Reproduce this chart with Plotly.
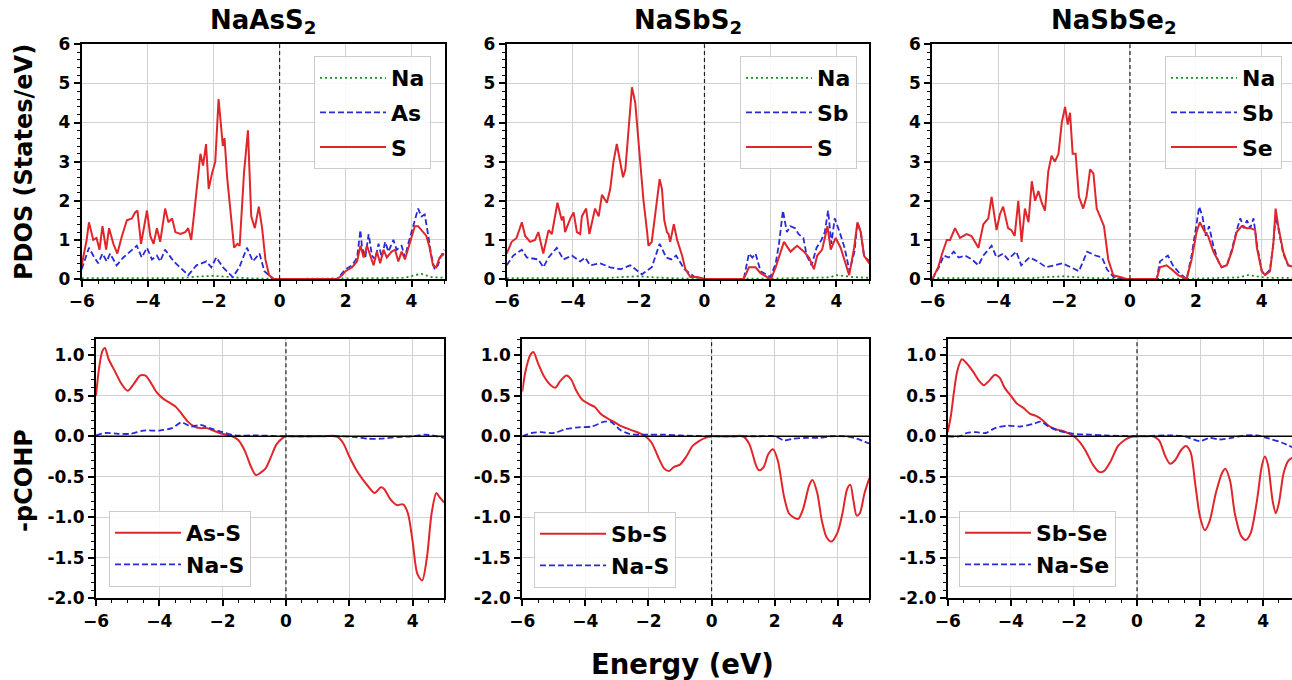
import plotly.graph_objects as go

# ---------------- DATA ----------------
titles = ["NaAsS<sub>2</sub>", "NaSbS<sub>2</sub>", "NaSbSe<sub>2</sub>"]
pdos_names = [["Na", "As", "S"], ["Na", "Sb", "S"], ["Na", "Sb", "Se"]]
cohp_names = [["As-S", "Na-S"], ["Sb-S", "Na-S"], ["Sb-Se", "Na-Se"]]

# NaAsS2 PDOS
e_na1 = [-6, -3.0, -2.5, -2.0, -1.5, -1.0, 0, 2, 3.8, 4.1, 4.3, 4.6, 5]
na1 = [0.02, 0.02, 0.06, 0.08, 0.05, 0.02, 0.0, 0.01, 0.03, 0.1, 0.13, 0.05, 0.03]
e_m1 = [-6.0, -5.78, -5.65, -5.5, -5.37, -5.24, -5.14, -4.94, -4.74, -4.33, -4.18, -4.02, -3.87, -3.72,
        -3.62, -3.47, -3.21, -3.01, -2.77, -2.52, -2.22, -2.07, -1.92, -1.72, -1.42, -1.22, -0.99, -0.81,
        -0.61, -0.46, -0.2, 0.0,
        1.75, 1.9, 2.0, 2.2, 2.35, 2.45, 2.5, 2.6, 2.7, 2.8, 2.9, 3.0, 3.1, 3.2, 3.3, 3.45, 3.55, 3.7,
        3.8, 3.9, 4.0, 4.1, 4.2, 4.3, 4.4, 4.5, 4.6, 4.7, 4.8, 4.9, 5.0]
m1 = [0.25, 0.8, 0.6, 0.4, 0.65, 0.45, 0.65, 0.35, 0.55, 0.85, 0.55, 0.8, 0.5, 0.6,
      0.45, 0.75, 0.45, 0.3, 0.1, 0.35, 0.45, 0.3, 0.55, 0.3, 0.05, 0.3, 0.8, 0.45,
      0.65, 0.2, 0.0, 0.0,
      0.0, 0.15, 0.25, 0.35, 0.55, 1.25, 0.8, 0.55, 1.15, 0.6, 0.5, 0.9, 0.55, 0.95, 0.7, 1.0, 0.75, 0.85,
      0.55, 0.9, 1.2, 1.55, 1.8, 1.6, 1.65, 1.15, 0.6, 0.25, 0.35, 0.6, 0.75]
e_x1 = [-6.0, -5.85, -5.78, -5.65, -5.55, -5.46, -5.37, -5.26, -5.17, -5.04, -4.92, -4.78, -4.63, -4.48,
        -4.38, -4.31, -4.2, -4.02, -3.92, -3.82, -3.72, -3.62, -3.47, -3.37, -3.26, -3.16, -3.01, -2.86,
        -2.77, -2.68, -2.6, -2.5, -2.4, -2.32, -2.23, -2.15, -2.05, -1.95, -1.85, -1.72, -1.67, -1.59,
        -1.49, -1.38, -1.28, -1.21, -1.08, -0.96, -0.86, -0.75, -0.63, -0.53, -0.43, -0.32, -0.17, 0.0,
        1.75, 1.9, 2.0, 2.2, 2.35, 2.45, 2.55, 2.65, 2.75, 2.85, 2.95, 3.05, 3.15, 3.25, 3.4, 3.5, 3.6,
        3.7, 3.8, 3.9, 4.0, 4.1, 4.2, 4.3, 4.45, 4.55, 4.65, 4.75, 4.85, 5.0]
x1 = [0.35, 1.0, 1.45, 1.0, 1.05, 0.75, 1.35, 0.75, 1.3, 0.9, 0.65, 1.1, 1.5, 1.55,
      1.7, 1.75, 0.9, 1.75, 1.1, 0.9, 1.3, 0.95, 1.8, 1.45, 1.55, 1.2, 1.15, 1.2,
      1.3, 1.0, 1.6, 2.4, 3.2, 2.9, 3.45, 2.3, 2.7, 3.0, 4.6, 3.4, 3.6, 2.6,
      1.8, 0.8, 0.9, 0.85, 2.7, 3.8, 1.6, 1.3, 1.85, 1.3, 0.5, 0.1, 0.0, 0.0,
      0.0, 0.1, 0.2, 0.3, 0.45, 0.85, 0.55, 0.85, 0.6, 0.35, 0.7, 0.4, 0.75, 0.55, 0.7, 0.75, 0.45,
      0.7, 0.5, 0.8, 1.05, 1.35, 1.35, 1.25, 1.1, 0.8, 0.35, 0.3, 0.55, 0.65]

# NaSbS2 PDOS
e_na2 = [-6, -3.0, -2.5, -2.0, -1.5, -1.0, 0, 2, 3.8, 4.0, 4.2, 4.5, 5]
na2 = [0.02, 0.02, 0.05, 0.07, 0.04, 0.02, 0.0, 0.01, 0.04, 0.1, 0.08, 0.05, 0.03]
e_m2 = [-6.0, -5.8, -5.54, -5.39, -5.04, -4.89, -4.73, -4.48, -4.28, -4.02, -3.77, -3.62, -3.47, -3.16,
        -2.86, -2.55, -2.25, -2.1, -1.9, -1.6, -1.36, -1.16, -1.01, -0.86, -0.61, -0.3, 0.0,
        1.19, 1.35, 1.45, 1.55, 1.7, 1.9, 2.0, 2.16, 2.26, 2.38, 2.5, 2.6, 2.75, 2.85, 3.0, 3.1, 3.25,
        3.4, 3.55, 3.65, 3.75, 3.85, 3.95, 4.1, 4.25, 4.4, 4.55, 4.64, 4.74, 4.84, 5.0]
m2 = [0.35, 0.6, 0.75, 0.55, 0.5, 0.3, 0.55, 0.8, 0.5, 0.6, 0.45, 0.55, 0.35, 0.4,
      0.3, 0.25, 0.35, 0.25, 0.12, 0.3, 0.9, 0.55, 0.5, 0.6, 0.25, 0.05, 0.0,
      0.0, 0.65, 0.55, 0.65, 0.2, 0.1, 0.05, 0.4, 0.9, 1.75, 1.2, 1.35, 1.3, 1.15, 1.05, 0.6, 0.35,
      0.8, 1.0, 1.2, 1.75, 0.9, 1.55, 1.2, 0.8, 0.2, 0.7, 1.45, 1.2, 0.6, 0.45]
e_x2 = [-6.0, -5.85, -5.7, -5.54, -5.44, -5.29, -5.14, -5.04, -4.89, -4.73, -4.63, -4.46, -4.33, -4.28,
        -4.23, -4.07, -3.97, -3.87, -3.77, -3.72, -3.59, -3.49, -3.32, -3.21, -3.11, -2.96, -2.86,
        -2.76, -2.66, -2.55, -2.47, -2.4, -2.3, -2.2, -2.1, -1.97, -1.85, -1.74, -1.7, -1.6, -1.44,
        -1.36, -1.29, -1.22, -1.14, -1.09, -1.04, -0.93, -0.83, -0.68, -0.58, -0.43, -0.22, 0.0,
        1.19, 1.35, 1.55, 1.7, 1.9, 2.02, 2.16, 2.26, 2.41, 2.61, 2.81, 3.02, 3.17, 3.32, 3.42, 3.57,
        3.73, 3.83, 3.98, 4.13, 4.23, 4.39, 4.54, 4.64, 4.74, 4.84, 5.0]
x2 = [0.65, 0.95, 1.05, 1.45, 1.1, 0.95, 1.0, 1.2, 0.65, 1.25, 1.15, 1.95, 1.5, 1.6,
      1.2, 1.55, 1.7, 1.2, 1.15, 1.6, 1.8, 1.15, 1.8, 1.6, 2.15, 1.95, 2.3,
      3.0, 3.45, 3.0, 2.6, 2.8, 3.8, 4.9, 4.5, 3.3, 2.0, 1.2, 0.85, 0.95, 2.0,
      2.55, 2.3, 1.5, 1.2, 1.15, 0.95, 1.4, 1.0, 0.6, 0.25, 0.05, 0.05, 0.0,
      0.0, 0.3, 0.3, 0.15, 0.05, 0.0, 0.3, 0.55, 0.95, 0.7, 0.85, 0.7, 0.55, 0.25, 0.6, 0.75,
      1.35, 0.75, 1.05, 0.8, 0.55, 0.1, 0.8, 1.45, 1.2, 0.6, 0.4]

# NaSbSe2 PDOS
e_na3 = [-6, -3.0, -2.5, -2.0, -1.5, -1.0, 0, 2, 3.3, 3.6, 3.9, 4.2, 5]
na3 = [0.02, 0.02, 0.05, 0.07, 0.04, 0.02, 0.0, 0.01, 0.04, 0.1, 0.06, 0.03, 0.03]
e_m3 = [-6.0, -5.8, -5.65, -5.5, -5.35, -5.2, -5.0, -4.8, -4.6, -4.45, -4.2, -4.05, -3.85, -3.7,
        -3.45, -3.3, -3.05, -2.8, -2.55, -2.3, -2.05, -1.8, -1.55, -1.3, -1.05, -0.85, -0.7, -0.5,
        -0.2, 0.0,
        0.81, 0.91, 1.05, 1.15, 1.3, 1.5, 1.72, 1.87, 2.0, 2.1, 2.2, 2.3, 2.4, 2.53, 2.68, 2.78, 2.94,
        3.09, 3.24, 3.35, 3.45, 3.55, 3.65, 3.75, 3.85, 4.0, 4.1, 4.25, 4.35, 4.42, 4.5, 4.65, 4.8, 5.0]
m3 = [0.0, 0.3, 0.6, 0.55, 0.7, 0.55, 0.6, 0.5, 0.35, 0.6, 0.85, 0.55, 0.65, 0.5,
      0.7, 0.35, 0.55, 0.45, 0.3, 0.35, 0.4, 0.3, 0.2, 0.7, 0.6, 0.55, 0.25, 0.05,
      0.0, 0.0,
      0.0, 0.45, 0.55, 0.6, 0.35, 0.15, 0.0, 0.6, 1.3, 1.85, 1.6, 1.1, 1.35, 0.85, 0.45, 0.3, 0.35,
      0.75, 1.25, 1.55, 1.3, 1.5, 1.3, 1.55, 0.9, 0.2, 0.1, 0.25, 0.9, 1.6, 1.3, 0.65, 0.35, 0.3]
e_x3 = [-6.0, -5.82, -5.72, -5.56, -5.46, -5.31, -5.16, -4.96, -4.81, -4.6, -4.45, -4.3, -4.2, -4.05,
        -3.95, -3.85, -3.7, -3.6, -3.5, -3.39, -3.29, -3.19, -3.08, -2.98, -2.88, -2.78, -2.68, -2.58,
        -2.48, -2.38, -2.28, -2.17, -2.07, -1.97, -1.89, -1.82, -1.74, -1.65, -1.55, -1.42, -1.32,
        -1.21, -1.11, -1.01, -0.91, -0.79, -0.66, -0.51, -0.3, -0.1, 0.0,
        0.81, 0.91, 1.11, 1.26, 1.46, 1.72, 1.87, 2.02, 2.12, 2.27, 2.37, 2.53, 2.68, 2.78, 2.94, 3.09,
        3.24, 3.39, 3.54, 3.65, 3.8, 3.85, 4.0, 4.1, 4.25, 4.35, 4.42, 4.5, 4.65, 4.8, 5.0]
x3 = [0.0, 0.3, 0.6, 1.0, 1.0, 1.3, 1.05, 1.15, 1.1, 0.8, 1.4, 1.55, 2.1, 1.25,
      1.65, 1.85, 1.3, 1.25, 1.1, 2.0, 0.95, 1.8, 1.45, 2.5, 2.0, 2.25, 1.95, 1.75,
      2.75, 3.15, 3.0, 3.2, 4.0, 4.4, 3.95, 4.25, 3.2, 3.2, 2.1, 1.8, 2.1,
      2.8, 2.7, 1.8, 1.6, 1.35, 0.5, 0.1, 0.05, 0.0, 0.0,
      0.0, 0.3, 0.35, 0.25, 0.1, 0.0, 0.5, 1.2, 1.45, 1.2, 1.1, 0.7, 0.45, 0.3, 0.35, 0.7,
      1.2, 1.35, 1.3, 1.3, 1.25, 0.8, 0.2, 0.1, 0.2, 0.9, 1.8, 1.35, 0.7, 0.35, 0.3]

# -pCOHP
e_c1 = [-6.0, -5.9, -5.8, -5.72, -5.6, -5.4, -5.2, -5.0, -4.8, -4.6, -4.45, -4.3, -4.1, -3.9, -3.7,
        -3.5, -3.3, -3.1, -2.9, -2.7, -2.5, -2.3, -2.1, -1.9, -1.7, -1.5, -1.3, -1.1, -0.95, -0.8,
        -0.65, -0.5, -0.3, -0.1, 0.0, 0.4, 0.8, 1.2, 1.6, 1.8, 2.0, 2.2, 2.4, 2.6, 2.8, 3.0, 3.1, 3.3,
        3.5, 3.7, 3.85, 4.0, 4.15, 4.3, 4.45, 4.6, 4.75, 4.85, 5.0]
c1 = [0.5, 0.85, 1.05, 1.09, 0.95, 0.8, 0.65, 0.56, 0.65, 0.75, 0.75, 0.68, 0.55, 0.47, 0.42,
      0.37, 0.28, 0.18, 0.12, 0.1, 0.1, 0.07, 0.04, 0.02, 0.0, -0.05, -0.18, -0.38, -0.48, -0.45,
      -0.4, -0.28, -0.1, -0.02, 0.0, 0.0, 0.0, 0.0, 0.0, -0.08, -0.25, -0.4, -0.52, -0.62, -0.7,
      -0.63, -0.65, -0.78, -0.85, -0.84, -0.95, -1.3, -1.7, -1.78, -1.5, -0.95, -0.7, -0.75, -0.82]
e_n1 = [-6.0, -5.7, -5.3, -4.9, -4.5, -4.0, -3.6, -3.3, -3.0, -2.7, -2.4, -2.0, -1.6, -1.0, 0.0,
        1.5, 2.2, 2.6, 3.0, 3.5, 4.0, 4.4, 5.0]
n1 = [0.01, 0.04, 0.03, 0.03, 0.07, 0.07, 0.1, 0.17, 0.12, 0.14, 0.1, 0.05, 0.01, 0.01, 0.0,
      0.0, -0.01, -0.03, -0.03, -0.01, 0.0, 0.02, -0.02]

e_c2 = [-6.0, -5.9, -5.75, -5.65, -5.5, -5.3, -5.1, -4.95, -4.8, -4.6, -4.45, -4.3, -4.1, -3.9, -3.7,
        -3.5, -3.3, -3.1, -2.9, -2.7, -2.5, -2.3, -2.1, -1.9, -1.7, -1.5, -1.35, -1.2, -1.0, -0.8,
        -0.6, -0.4, -0.2, 0.0, 0.35, 0.7, 1.0, 1.2, 1.4, 1.5, 1.65, 1.8, 1.95, 2.1, 2.3, 2.45, 2.6,
        2.75, 2.9, 3.1, 3.2, 3.35, 3.5, 3.65, 3.8, 4.0, 4.15, 4.3, 4.4, 4.5, 4.6, 4.7, 4.85, 5.0]
c2 = [0.55, 0.8, 1.0, 1.04, 0.9, 0.73, 0.63, 0.6, 0.68, 0.75, 0.7, 0.57, 0.45, 0.4, 0.36,
      0.27, 0.22, 0.18, 0.13, 0.1, 0.07, 0.04, 0.0, -0.08, -0.25, -0.4, -0.43, -0.38, -0.35, -0.25,
      -0.12, -0.06, -0.02, 0.0, 0.0, 0.0, 0.0, -0.1, -0.35, -0.42, -0.38, -0.22, -0.16, -0.3, -0.75,
      -0.95, -1.0, -1.02, -0.9, -0.6, -0.54, -0.7, -1.05, -1.25, -1.3, -1.18, -0.95, -0.65, -0.6,
      -0.8, -0.98, -0.95, -0.7, -0.52]
e_n2 = [-6.0, -5.7, -5.4, -5.0, -4.6, -4.2, -3.8, -3.4, -3.2, -2.9, -2.6, -2.0, -1.5, -1.0, 0.0,
        1.5, 2.0, 2.3, 2.6, 3.0, 3.4, 3.8, 4.2, 4.6, 5.0]
n2 = [0.0, 0.04, 0.05, 0.04, 0.09, 0.11, 0.12, 0.18, 0.18, 0.08, 0.03, 0.02, 0.02, 0.01, 0.0,
      0.0, 0.0, -0.05, -0.03, -0.02, -0.02, 0.0, 0.0, -0.03, -0.09]

e_c3 = [-6.0, -5.9, -5.8, -5.7, -5.55, -5.4, -5.2, -5.0, -4.85, -4.7, -4.5, -4.35, -4.2, -4.0, -3.8,
        -3.6, -3.4, -3.2, -3.0, -2.8, -2.6, -2.4, -2.2, -2.0, -1.8, -1.6, -1.4, -1.2, -1.05, -0.85,
        -0.6, -0.4, -0.2, 0.0, 0.25, 0.5, 0.7, 0.9, 1.05, 1.2, 1.4, 1.55, 1.7, 1.85, 2.0, 2.15, 2.3,
        2.5, 2.7, 2.8, 2.95, 3.1, 3.3, 3.45, 3.6, 3.8, 3.95, 4.05, 4.15, 4.3, 4.4, 4.5, 4.65, 4.8, 5.0]
c3 = [0.05, 0.25, 0.55, 0.8, 0.95, 0.9, 0.8, 0.68, 0.63, 0.68, 0.76, 0.72, 0.6, 0.5, 0.4,
      0.35, 0.28, 0.25, 0.2, 0.13, 0.09, 0.07, 0.04, 0.0, -0.08, -0.2, -0.35, -0.44, -0.43, -0.32,
      -0.12, -0.05, -0.01, 0.0, 0.0, 0.0, -0.05, -0.25, -0.34, -0.3, -0.17, -0.12, -0.2, -0.6, -1.0,
      -1.16, -1.05, -0.7, -0.45, -0.4, -0.55, -0.95, -1.23, -1.28, -1.2, -0.8, -0.38, -0.25, -0.35,
      -0.8, -0.95, -0.82, -0.45, -0.3, -0.25]
e_n3 = [-6.0, -5.6, -5.4, -5.1, -4.8, -4.5, -4.1, -3.7, -3.3, -3.05, -2.8, -2.5, -2.0, -1.5, -1.0,
        0.0, 1.0, 1.5, 2.0, 2.3, 2.6, 3.0, 3.4, 3.8, 4.2, 4.6, 5.0]
n3 = [0.0, 0.0, 0.04, 0.05, 0.04, 0.1, 0.13, 0.12, 0.15, 0.18, 0.12, 0.07, 0.03, 0.02, 0.01,
      0.0, 0.01, 0.0, -0.06, -0.02, -0.04, -0.02, 0.01, 0.01, -0.03, -0.08, -0.15]

pdos_na = [(e_na1, na1), (e_na2, na2), (e_na3, na3)]
pdos_m = [(e_m1, m1), (e_m2, m2), (e_m3, m3)]
pdos_x = [(e_x1, x1), (e_x2, x2), (e_x3, x3)]
cohp_main = [(e_c1, c1), (e_c2, c2), (e_c3, c3)]
cohp_na = [(e_n1, n1), (e_n2, n2), (e_n3, n3)]
cohp_ticks = [-2.0, -1.5, -1.0, -0.5, 0.0, 0.5, 1.0]

# ---------------- LAYOUT ----------------
W, H = 1292, 680
FONT = "DejaVu Sans"
RED = "#e0262a"
BLUE = "#2a2ad6"
GREEN = "#1e8c1e"
GRID = "#d2d2d2"


def fx(p):
    return p / W


def fy(p):
    return 1 - p / H


def aid(k):
    return "" if k == 1 else str(k)


top_dom = [(81.7, 444.5), (506.7, 869.3), (932.3, 1292)]
bot_dom = [(96, 444.3), (522.3, 869.3), (947.7, 1292)]
top_rng = [[-6, 5], [-6, 5], [-6, 4.917]]
bot_rng = [[-6, 5], [-6, 5], [-6, 4.913]]
top_y = (44.3, 279)
bot_y = (339, 598.3)
top_leg = [(431, 56), (857, 56), (1282, 56)]
bot_leg = [(109, 587), (534, 588), (959, 587)]

tickfont = dict(family=FONT, size=17, color="black", weight="bold")
legfont = dict(family=FONT, size=22, color="black", weight="bold")

fig = go.Figure()
layout = {}
shapes = []

for i in range(3):
    # top PDOS
    k = i + 1
    xa, ya = "x" + aid(k), "y" + aid(k)
    leg = "legend" + aid(k)
    fig.add_trace(go.Scatter(x=pdos_na[i][0], y=pdos_na[i][1], mode="lines", name=pdos_names[i][0],
                             line=dict(color=GREEN, width=1.8, dash="2px,3px"),
                             xaxis=xa, yaxis=ya, legend=leg, legendgroup=f"a{k}"))
    fig.add_trace(go.Scatter(x=pdos_m[i][0], y=pdos_m[i][1], mode="lines", name=pdos_names[i][1],
                             line=dict(color=BLUE, width=1.8, dash="6px,3px"),
                             xaxis=xa, yaxis=ya, legend=leg, legendgroup=f"b{k}"))
    fig.add_trace(go.Scatter(x=pdos_x[i][0], y=pdos_x[i][1], mode="lines", name=pdos_names[i][2],
                             line=dict(color=RED, width=2.0),
                             xaxis=xa, yaxis=ya, legend=leg, legendgroup=f"c{k}"))
    # bottom COHP
    k2 = i + 4
    xb, yb = "x" + aid(k2), "y" + aid(k2)
    leg2 = "legend" + aid(k2)
    fig.add_trace(go.Scatter(x=cohp_main[i][0], y=cohp_main[i][1], mode="lines", name=cohp_names[i][0],
                             line=dict(color=RED, width=2.0, shape="spline", smoothing=0.8),
                             xaxis=xb, yaxis=yb, legend=leg2, legendgroup=f"d{k2}"))
    fig.add_trace(go.Scatter(x=cohp_na[i][0], y=cohp_na[i][1], mode="lines", name=cohp_names[i][1],
                             line=dict(color=BLUE, width=1.8, dash="6px,3px", shape="spline", smoothing=0.8),
                             xaxis=xb, yaxis=yb, legend=leg2, legendgroup=f"e{k2}"))

    common_x = dict(showline=True, linecolor="black", linewidth=2, mirror=True, automargin=False,
                    ticks="outside", ticklen=6, tickwidth=1.5, tickcolor="black",
                    tickmode="linear", tick0=0, dtick=2, tickfont=tickfont,
                    showgrid=True, gridcolor=GRID, gridwidth=1, zeroline=False,
                    minor=dict(ticks="outside", ticklen=3, tickwidth=1, tickcolor="black",
                               tick0=0, dtick=0.5, showgrid=False))
    mir = True if i < 2 else False
    layout["xaxis" + aid(k)] = dict(domain=[fx(top_dom[i][0]), fx(top_dom[i][1])], anchor=ya,
                                    range=top_rng[i], **common_x)
    layout["yaxis" + aid(k)] = dict(domain=[fy(top_y[1]), fy(top_y[0])], anchor=xa, range=[0, 6],
                                    showline=True, linecolor="black", linewidth=2, mirror=mir,
                                    automargin=False,
                                    ticks="outside", ticklen=6, tickwidth=1.5, tickcolor="black",
                                    tickmode="linear", tick0=0, dtick=1, tickfont=tickfont,
                                    showgrid=True, gridcolor=GRID, gridwidth=1, zeroline=False,
                                    minor=dict(ticks="outside", ticklen=3, tickwidth=1, tickcolor="black",
                                               tick0=0, dtick=0.2, showgrid=False))
    layout["xaxis" + aid(k2)] = dict(domain=[fx(bot_dom[i][0]), fx(bot_dom[i][1])], anchor=yb,
                                     range=bot_rng[i], **common_x)
    layout["yaxis" + aid(k2)] = dict(domain=[fy(bot_y[1]), fy(bot_y[0])], anchor=xb, range=[-2, 1.2],
                                     showline=True, linecolor="black", linewidth=2, mirror=mir,
                                     automargin=False,
                                     ticks="outside", ticklen=6, tickwidth=1.5, tickcolor="black",
                                     tickmode="array", tickvals=cohp_ticks,
                                     ticktext=[f"{v:.1f}" for v in cohp_ticks],
                                     tickfont=tickfont,
                                     showgrid=True, gridcolor=GRID, gridwidth=1, zeroline=False,
                                     minor=dict(ticks="outside", ticklen=3, tickwidth=1, tickcolor="black",
                                                tick0=0, dtick=0.1, showgrid=False))
    # legends
    layout[leg] = dict(x=fx(top_leg[i][0]), y=fy(top_leg[i][1]), xanchor="right", yanchor="top",
                       xref="paper", yref="paper",
                       bgcolor="rgba(255,255,255,0.85)", bordercolor="#cccccc", borderwidth=1,
                       font=legfont, tracegroupgap=3, itemwidth=66)
    layout[leg2] = dict(x=fx(bot_leg[i][0]), y=fy(bot_leg[i][1]), xanchor="left", yanchor="bottom",
                        xref="paper", yref="paper",
                        bgcolor="rgba(255,255,255,0.85)", bordercolor="#cccccc", borderwidth=1,
                        font=legfont, tracegroupgap=0, itemwidth=66)
    # Fermi level and zero lines
    shapes.append(dict(type="line", xref=xa, yref=f"{ya} domain", x0=0, x1=0, y0=0, y1=1,
                       line=dict(color="#222222", width=1.2, dash="4px,3px"), layer="above"))
    shapes.append(dict(type="line", xref=xb, yref=f"{yb} domain", x0=0, x1=0, y0=0, y1=1,
                       line=dict(color="#222222", width=1.2, dash="4px,3px"), layer="above"))
    shapes.append(dict(type="line", xref=f"{xb} domain", yref=yb, x0=0, x1=1, y0=0, y1=0,
                       line=dict(color="black", width=1.5), layer="above"))

annotations = []
centers = [263, 688, 1113.5]
for i in range(3):
    annotations.append(dict(text=f"<b>{titles[i]}</b>", x=fx(centers[i]), y=fy(22), xref="paper", yref="paper",
                            xanchor="center", yanchor="middle", showarrow=False,
                            font=dict(family=FONT, size=26, color="black")))
annotations.append(dict(text="<b>PDOS (States/eV)</b>", x=fx(24), y=fy(162), xref="paper", yref="paper",
                        textangle=-90, xanchor="center", yanchor="middle", showarrow=False,
                        font=dict(family=FONT, size=24, color="black")))
annotations.append(dict(text="<b>-pCOHP</b>", x=fx(24), y=fy(481), xref="paper", yref="paper",
                        textangle=-90, xanchor="center", yanchor="middle", showarrow=False,
                        font=dict(family=FONT, size=24, color="black")))
annotations.append(dict(text="<b>Energy (eV)</b>", x=fx(682), y=fy(664), xref="paper", yref="paper",
                        xanchor="center", yanchor="middle", showarrow=False,
                        font=dict(family=FONT, size=27.5, color="black")))

fig.update_layout(width=W, height=H, margin=dict(l=0, r=0, t=0, b=0, autoexpand=False),
                  paper_bgcolor="white", plot_bgcolor="white",
                  shapes=shapes, annotations=annotations, **layout)

fig.write_html("out.html")
